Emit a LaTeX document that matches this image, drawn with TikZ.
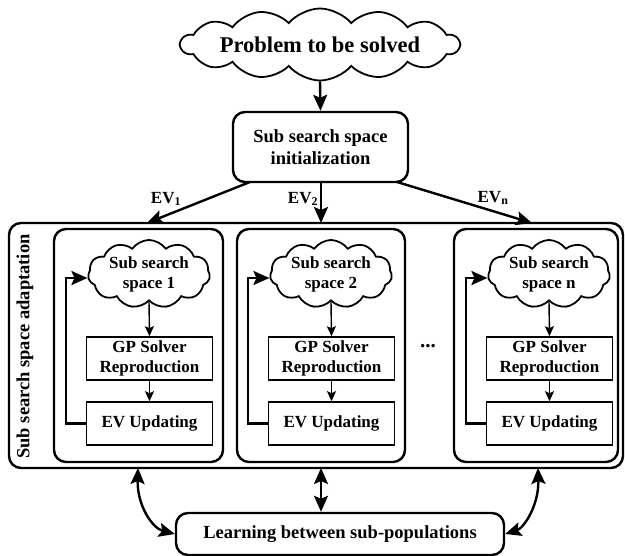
\documentclass[tikz,border=0pt]{standalone}
\usepackage{fontspec}
\setmainfont{Liberation Serif}
\usetikzlibrary{shapes.symbols,arrows.meta,calc}
\begin{document}
\begin{tikzpicture}[x=1pt,y=-1pt,
  thickline/.style={line width=2.4pt},
  bigtip/.style={-{Stealth[length=16pt,width=14pt,inset=3pt]}},
  bigboth/.style={{Stealth[length=16pt,width=14pt,inset=3pt]}-{Stealth[length=16pt,width=14pt,inset=3pt]}},
  smalltip/.style={line width=1.4pt,-{Stealth[length=10pt,width=9pt,inset=2pt]}},
  txtS/.style={font=\fontsize{17}{20}\selectfont\bfseries},
  txtM/.style={font=\fontsize{18.5}{21.5}\selectfont\bfseries},
  cloudnode/.style={cloud, draw, cloud ignores aspect,
     line width=1.8pt, align=center, inner sep=0pt},
  roundbox/.style={draw, rounded corners=12pt, line width=2.4pt, inner sep=0pt},
  plainbox/.style={draw, line width=1.6pt, minimum width=126pt, minimum height=43pt,
     align=center, inner sep=0pt, txtS},
]
\useasboundingbox (0,0) rectangle (625,556);

% top
\node[cloudnode, cloud puffs=14, cloud puff arc=100, minimum width=266pt, minimum height=72pt,
      font=\fontsize{22.5}{25}\selectfont\bfseries] (prob) at (320,44.5) {Problem to be solved};
\node[roundbox, minimum width=175pt, minimum height=70pt, align=center, txtM]
      (init) at (320.5,147) {Sub search space\\initialization};
\draw[thickline, bigtip] (prob.south) -- (init.north);

% outer and inner boxes
\node[roundbox, minimum width=614pt, minimum height=245pt] (outer) at (316,345.5) {};
\node[roundbox, minimum width=169pt, minimum height=233pt] (in1) at (138.5,345.5) {};
\node[roundbox, minimum width=168pt, minimum height=233pt] (in2) at (321,345.5) {};
\node[roundbox, minimum width=164pt, minimum height=233pt] (in3) at (536,345.5) {};
\node[txtM, rotate=90] (adapt) at (25,346.5) {Sub search space adaptation};

% EV connectors
\coordinate (s1) at (250,182);
\coordinate (s2) at (321,182);
\coordinate (s3) at (397,182);
\coordinate (t1) at (147,223);
\coordinate (t2) at (321,223);
\coordinate (t3) at (532,223);
\draw[thickline, bigtip] (s1) -- (t1);
\draw[thickline, bigtip] (s2) -- (t2);
\draw[thickline, bigtip] (s3) -- (t3);
\node[txtS] (ev1) at (166,199) {EV\textsubscript{1}};
\node[txtS] (ev2) at (303,199) {EV\textsubscript{2}};
\node[txtS] (evn) at (493,198) {EV\textsubscript{n}};

% columns
\foreach \i/\x/\lbl in {1/149/1, 2/331/2, 3/549/n}{
  \node[cloudnode, cloud puffs=11, cloud puff arc=110, minimum width=122pt, minimum height=68pt, txtS] (cl\i) at (\x,274) {Sub search\\space \lbl};
  \node[plainbox] (gp\i) at ($(\x,358.5)+(0.5,0)$) {GP Solver\\Reproduction};
  \node[plainbox] (up\i) at ($(\x,423.5)+(0.5,0)$) {EV Updating};
  \draw[smalltip] (cl\i.south) -- (gp\i.north);
  \draw[smalltip] (gp\i.south) -- (up\i.north);
  \draw[thickline, bigtip] (up\i.west) -- ++(-20,0) |- ($(cl\i.west)+(0,4)$);
}

\node[inner sep=0pt, font=\fontsize{21}{24}\selectfont\bfseries] (dots) at (428,346) {...};

% bottom
\node[roundbox, minimum width=328pt, minimum height=42pt, txtM] (learn) at (340,534)
   {Learning between sub-populations};
\coordinate (b1) at (138,468);
\coordinate (b2) at (321,468);
\coordinate (b3) at (538,468);
\draw[thickline, bigboth] (b1) .. controls (137,505) and (152,528) .. (learn.west);
\draw[thickline, bigboth] (b2) -- (b2 |- learn.north);
\draw[thickline, bigboth] (b3) .. controls (539,505) and (524,528) .. (learn.east);
\end{tikzpicture}
\end{document}
